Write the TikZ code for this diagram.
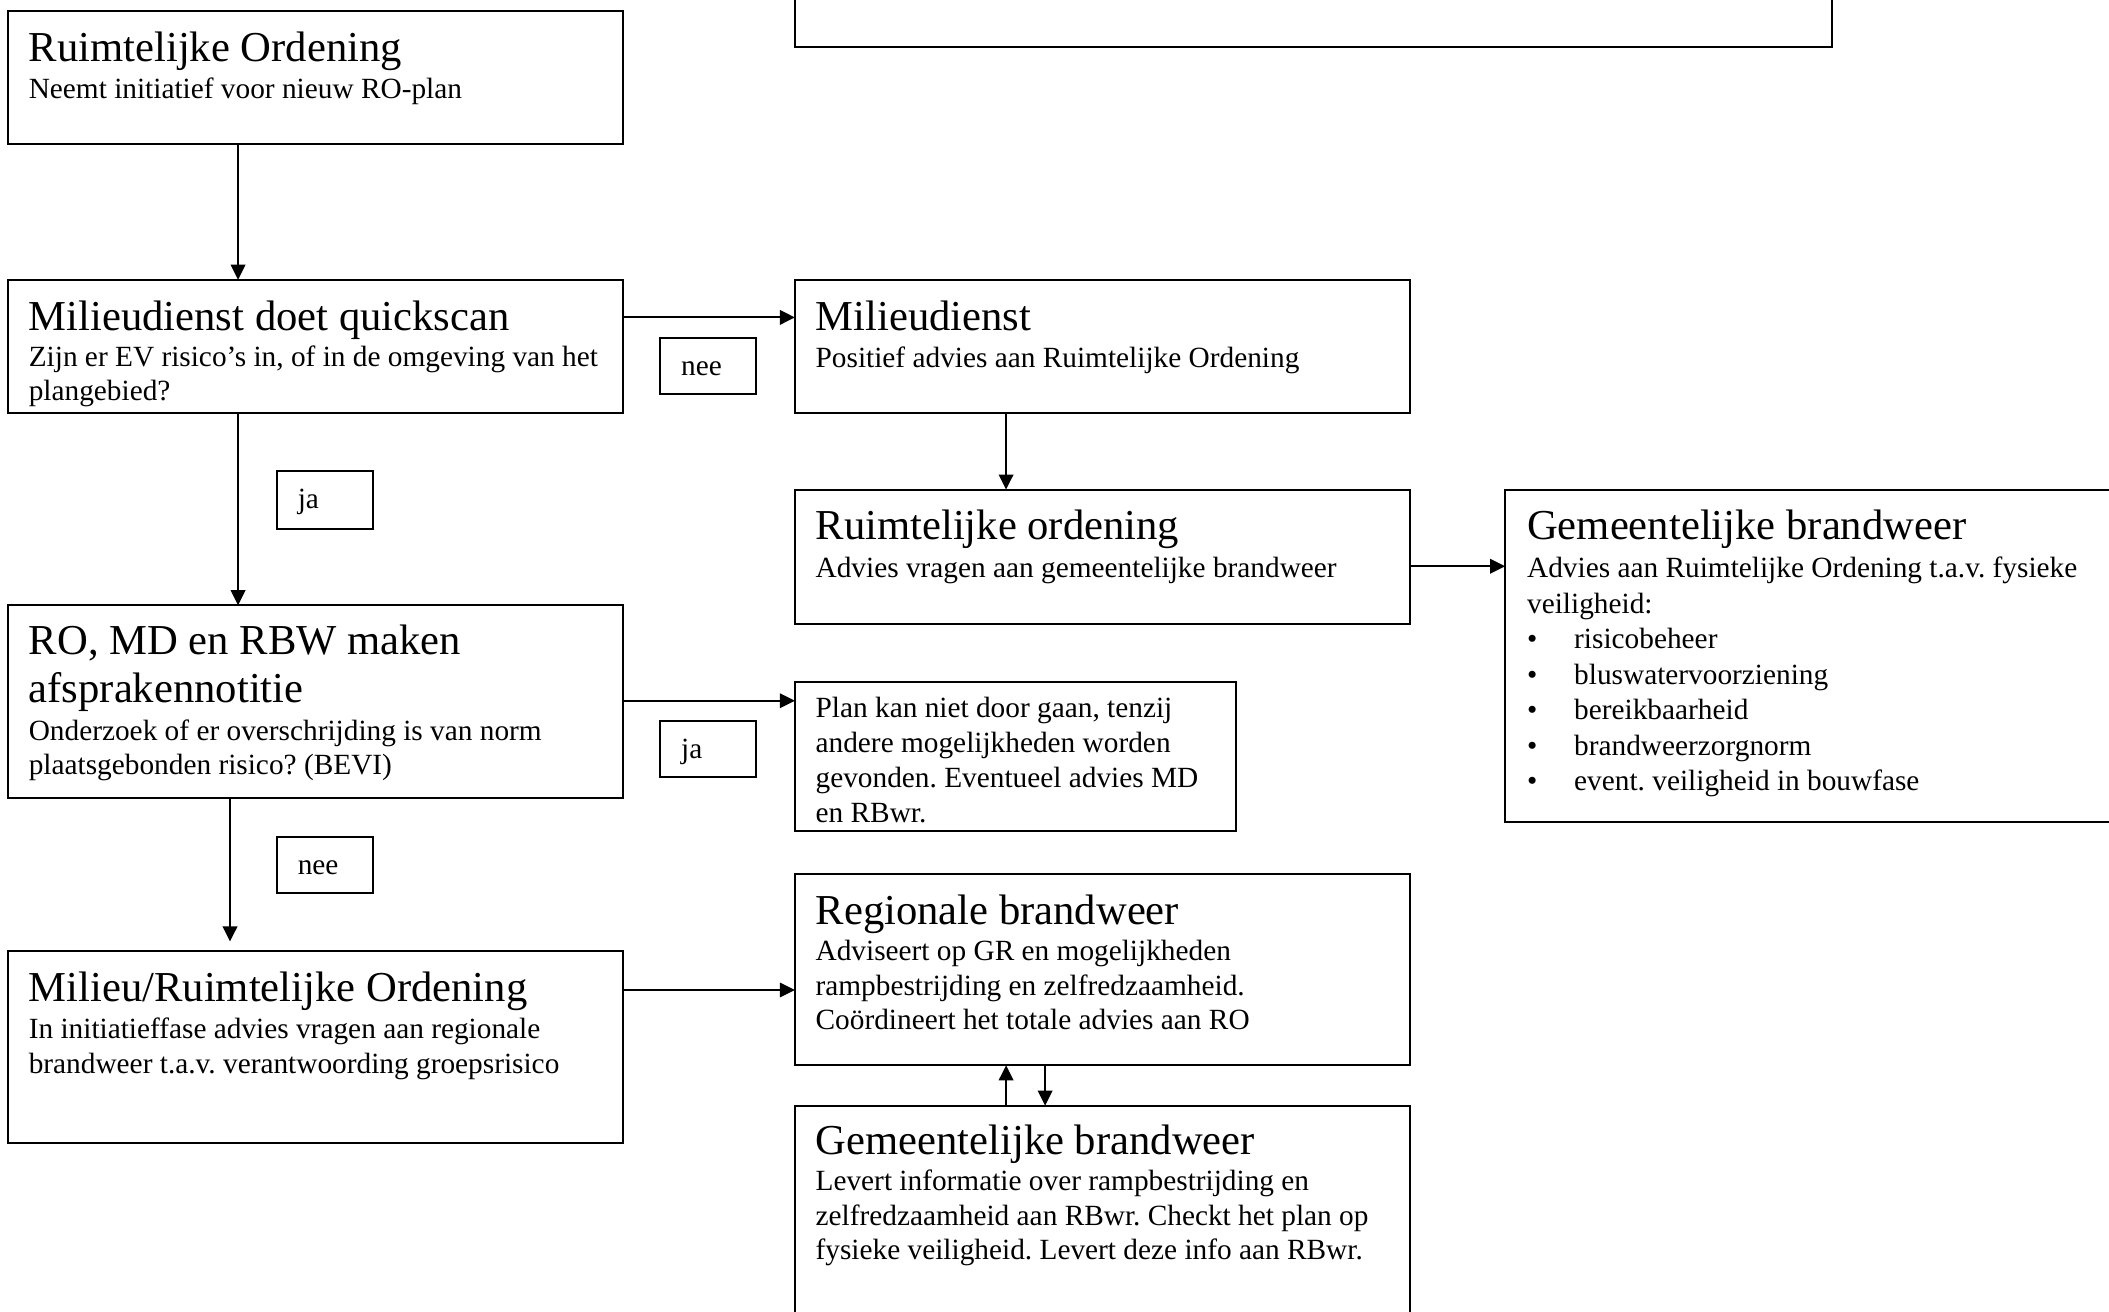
\documentclass[tikz,border=0pt]{standalone}
\usepackage{fontspec}
\setmainfont{Liberation Serif}[Ligatures={TeX,NoCommon}]
\usetikzlibrary{arrows.meta}
\frenchspacing
\newcommand{\ttlfont}{\fontsize{15.85pt}{18pt}\selectfont}
\newcommand{\bodyfont}{\fontsize{10.9pt}{12.7pt}\selectfont}
\newcommand{\bul}{\makebox[17.5pt][l]{•}}
\tikzset{
  box/.style={draw, line width=0.75pt, anchor=north west, inner sep=0pt, outer sep=0pt},
  sz/.style 2 args={minimum width=#1*0.5pt, minimum height=#2*0.5pt},
  ttl/.style={anchor=north west, inner sep=0pt, align=left, font=\ttlfont},
  txt/.style={anchor=north west, inner sep=0pt, align=left, font=\bodyfont},
  arr/.style={line width=0.7pt, -{Triangle[length=5.6pt,width=5.4pt]}},
}
\begin{document}
\begin{tikzpicture}[x=0.5pt,y=-0.5pt]
\frenchspacing
\useasboundingbox (0,0) rectangle (1568,975);
\clip (0,0) rectangle (1568,975);
% boxes
\node[box, sz={771}{75}] (K) at (591,-40) {};
\node[box, sz={457}{99}] (A) at (6,8) {};
\node[box, sz={457}{99}] (B) at (6,208) {};
\node[box, sz={457}{99}] (C) at (591,208) {};
\node[box, sz={457}{100}] (D) at (591,364) {};
\node[box, sz={500}{247}] (E) at (1119,364) {};
\node[box, sz={457}{143}] (F) at (6,450) {};
\node[box, sz={328}{111}] (G) at (591,507) {};
\node[box, sz={457}{143}] (H) at (6,707) {};
\node[box, sz={457}{142}] (I) at (591,650) {};
\node[box, sz={457}{200}] (J) at (591,822) {};
% labels
\node[box, sz={71}{42}] (L1) at (491,251) {};
\node[box, sz={71}{43}] (L2) at (206,350) {};
\node[box, sz={71}{42}] (L3) at (491,536) {};
\node[box, sz={71}{42}] (L4) at (206,622) {};
\node[txt] (L1t) at ([xshift=7.5pt]L1.north west) {\rule{0pt}{13.75pt}nee};
\node[txt] (L2t) at ([xshift=7.5pt]L2.north west) {\rule{0pt}{13.75pt}ja};
\node[txt] (L3t) at ([xshift=7.5pt]L3.north west) {\rule{0pt}{13.75pt}ja};
\node[txt] (L4t) at ([xshift=7.5pt]L4.north west) {\rule{0pt}{13.75pt}nee};
% texts
\node[ttl] (At) at ([xshift=7.5pt]A.north west) {\rule{0pt}{18.5pt}Ruimtelijke Ordening};
\node[txt] (Ab) at ([xshift=7.5pt,yshift=-18.5pt]A.north west) {\rule{0pt}{14pt}Neemt initiatief voor nieuw RO-plan};
\node[ttl] (Bt) at ([xshift=7.5pt]B.north west) {\rule{0pt}{18.5pt}Milieudienst doet quickscan};
\node[txt] (Bb) at ([xshift=7.5pt,yshift=-18.5pt]B.north west) {\rule{0pt}{13.5pt}Zijn er EV risico’s in, of in de omgeving van het\\plangebied?};
\node[ttl] (Ct) at ([xshift=7.5pt]C.north west) {\rule{0pt}{18.5pt}Milieudienst};
\node[txt] (Cb) at ([xshift=7.5pt,yshift=-18.5pt]C.north west) {\rule{0pt}{14pt}Positief advies aan Ruimtelijke Ordening};
\node[ttl] (Dt) at ([xshift=7.5pt]D.north west) {\rule{0pt}{18.5pt}Ruimtelijke ordening};
\node[txt] (Db) at ([xshift=7.5pt,yshift=-18.5pt]D.north west) {\rule{0pt}{14pt}Advies vragen aan gemeentelijke brandweer};
\node[ttl] (Et) at ([xshift=8pt]E.north west) {\rule{0pt}{18.5pt}Gemeentelijke brandweer};
\node[txt, font={\fontsize{10.9pt}{13.2pt}\selectfont}] (Eb) at ([xshift=8pt,yshift=-18.5pt]E.north west) {\rule{0pt}{14pt}Advies aan Ruimtelijke Ordening t.a.v. fysieke\\veiligheid:\\\bul risicobeheer\\\bul bluswatervoorziening\\\bul bereikbaarheid\\\bul brandweerzorgnorm\\\bul event. veiligheid in bouwfase};
\node[ttl] (Ft) at ([xshift=7.5pt]F.north west) {\rule{0pt}{18pt}RO, MD en RBW maken\\afsprakennotitie};
\node[txt] (Fb) at ([xshift=7.5pt,yshift=-36pt]F.north west) {\rule{0pt}{14pt}Onderzoek of er overschrijding is van norm\\plaatsgebonden risico? (BEVI)};
\node[txt, font={\fontsize{10.9pt}{13pt}\selectfont}] (Gb) at ([xshift=7.5pt]G.north west) {\rule{0pt}{13pt}Plan kan niet door gaan, tenzij\\andere mogelijkheden worden\\gevonden. Eventueel advies MD\\en RBwr.};
\node[ttl] (Ht) at ([xshift=7.5pt]H.north west) {\rule{0pt}{18.5pt}Milieu/Ruimtelijke Ordening};
\node[txt] (Hb) at ([xshift=7.5pt,yshift=-18.5pt]H.north west) {\rule{0pt}{14pt}In initiatieffase advies vragen aan regionale\\brandweer t.a.v. verantwoording groepsrisico};
\node[ttl] (It) at ([xshift=7.5pt]I.north west) {\rule{0pt}{18.5pt}Regionale brandweer};
\node[txt] (Ib) at ([xshift=7.5pt,yshift=-18.5pt]I.north west) {\rule{0pt}{13.5pt}Adviseert op GR en mogelijkheden\\rampbestrijding en zelfredzaamheid.\\Coördineert het totale advies aan RO};
\node[ttl] (Jt) at ([xshift=7.5pt]J.north west) {\rule{0pt}{18pt}Gemeentelijke brandweer};
\node[txt] (Jb) at ([xshift=7.5pt,yshift=-18pt]J.north west) {\rule{0pt}{13.5pt}Levert informatie over rampbestrijding en\\zelfredzaamheid aan RBwr. Checkt het plan op\\fysieke veiligheid. Levert deze info aan RBwr.};
% connector guides
\coordinate (x1) at (177,0);
\coordinate (x2) at (171,0);
\coordinate (x3) at (748,0);
\coordinate (x4) at (777,0);
\coordinate (y1) at (0,236);
\coordinate (y2) at (0,421);
\coordinate (y3) at (0,521);
\coordinate (y4) at (0,736);
\path (H.north -| x2) ++(0,-7) coordinate (hend);
% connectors
\draw[arr] (A.south -| x1) -- (B.north -| x1);
\draw[arr] (B.east |- y1) -- (C.west |- y1);
\draw[arr] (C.south -| x3) -- (D.north -| x3);
\draw[arr] (D.east |- y2) -- (E.west |- y2);
\draw[arr] (B.south -| x1) -- (F.north -| x1);
\draw[arr] (F.east |- y3) -- (G.west |- y3);
\draw[arr] (F.south -| x2) -- (hend);
\draw[arr] (H.east |- y4) -- (I.west |- y4);
\draw[arr] (J.north -| x3) -- (I.south -| x3);
\draw[arr] (I.south -| x4) -- (J.north -| x4);
\end{tikzpicture}
\end{document}
